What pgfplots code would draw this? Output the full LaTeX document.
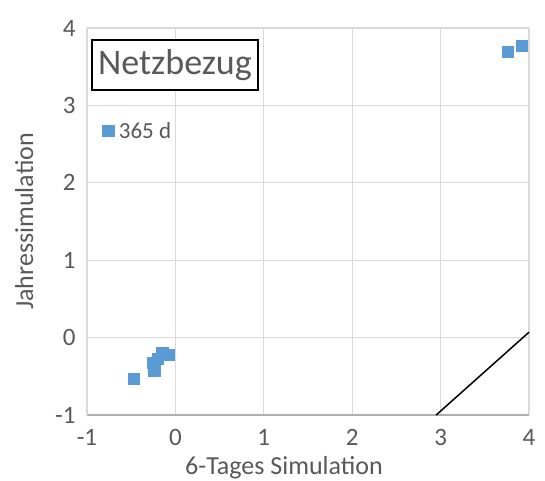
\documentclass[border=0pt]{standalone}
\usepackage{pgfplots}
\pgfplotsset{compat=1.18}
\usepackage{fontspec}
\setmainfont{Carlito}
\definecolor{txt}{HTML}{595959}
\definecolor{grd}{HTML}{D9D9D9}
\definecolor{ser}{HTML}{5B9BD5}
\begin{document}
\begin{tikzpicture}[x=1pt,y=1pt]
\useasboundingbox (-87,-65) rectangle (458,415);
\begin{axis}[
  at={(0,0)}, anchor=south west,
  scale only axis, width=442pt, height=387pt,
  xmin=-1, xmax=4, ymin=-1, ymax=4,
  xtick={-1,0,1,2,3,4}, ytick={-1,0,1,2,3,4},
  grid=major, grid style={grd, line width=1.2pt},
  axis x line*=bottom, axis y line*=left,
  x axis line style={draw=grd!80!black, line width=1.4pt, -},
  y axis line style={draw=grd, line width=1.2pt, -},
  major tick length=0pt,
  tick label style={font=\fontsize{25}{30}\selectfont, text=txt},
  /pgf/number format/assume math mode=true,
  xticklabel style={yshift=-11pt},
  yticklabel style={xshift=-8pt},
  xlabel={6-Tages Simulation}, ylabel={Jahressimulation},
  label style={font=\fontsize{26}{31}\selectfont, text=txt},
  xlabel style={yshift=-4pt, xshift=-24pt},
  ylabel style={yshift=15pt},
  legend style={at={(0.035,0.734)}, anchor=west, draw=none, fill=none,
    font=\fontsize{23}{28}\selectfont, text=txt, inner sep=0pt},
  legend cell align=left,
  clip=false,
]
\addplot[only marks, mark=square*, mark size=5.6pt, mark options={fill=ser, draw=ser}]
  coordinates {(-0.47,-0.53) (-0.25,-0.32) (-0.24,-0.43) (-0.15,-0.20) (-0.08,-0.22) (-0.20,-0.27) (3.76,3.69) (3.92,3.77)};
\addlegendentry{\hspace{3pt}365 d}
\addplot[black, line width=1.5pt, forget plot] coordinates {(2.95,-1) (4,0.07)};
\node[draw=black, line width=1.8pt, fill=white, minimum width=166pt, minimum height=50pt,
  font=\fontsize{36}{43}\selectfont, text=txt] at (rel axis cs:0.199,0.904) {Netzbezug};
\end{axis}
\end{tikzpicture}
\end{document}
